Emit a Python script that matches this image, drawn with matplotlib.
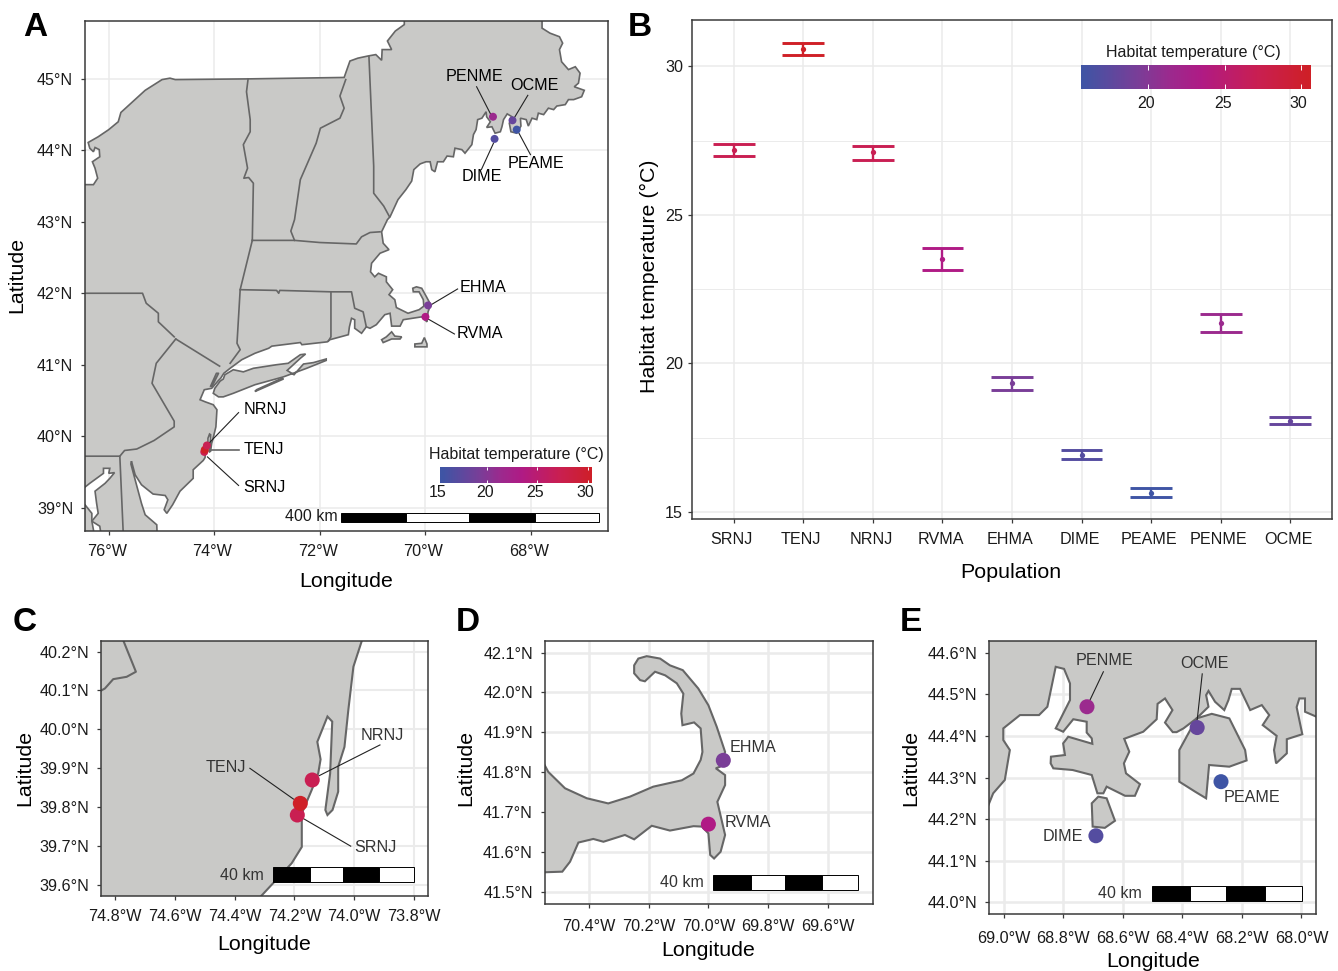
import numpy as np
import matplotlib
matplotlib.use('Agg')
import matplotlib.pyplot as plt
from matplotlib.colors import LinearSegmentedColormap
from matplotlib.patches import Polygon, Rectangle
from matplotlib.transforms import ScaledTranslation

plt.rcParams['font.family'] = ['Liberation Sans', 'DejaVu Sans']

W, H = 1338, 971

# populations
pops = ['SRNJ', 'TENJ', 'NRNJ', 'RVMA', 'EHMA', 'DIME', 'PEAME', 'PENME', 'OCME']
pop_lon = [-74.19, -74.18, -74.14, -70.00, -69.95, -68.69, -68.27, -68.72, -68.35]
pop_lat = [39.78, 39.81, 39.87, 41.67, 41.83, 44.16, 44.29, 44.47, 44.42]
temp_mean = [27.18, 30.58, 27.11, 23.51, 19.33, 16.93, 15.64, 21.36, 18.07]
temp_hi = [27.40, 30.78, 27.33, 23.87, 19.55, 17.09, 15.79, 21.67, 18.21]
temp_lo = [26.98, 30.38, 26.86, 23.14, 19.10, 16.77, 15.50, 21.06, 17.95]

# colour scale stops
stop_temp = [15.6, 19.3, 21.4, 23.5, 27.1, 30.6]
stop_col = ['#3F55A5', '#7A3E98', '#9C2A8E', '#B01B85', '#C91F53', '#CF2027']
t0, t1 = stop_temp[0], stop_temp[-1]
cmap = LinearSegmentedColormap.from_list(
    'habitat', [((t - t0) / (t1 - t0), c) for t, c in zip(stop_temp, stop_col)])

def temp_color(t):
    return cmap((t - t0) / (t1 - t0))

# panel A outlines (lon, lat)
coast_maine = [(-70.40, 46.0), (-67.79, 46.0), (-67.79, 45.71), (-67.64, 45.64), (-67.46, 45.59), (-67.40, 45.50),
               (-67.46, 45.41), (-67.42, 45.24), (-67.29, 45.13), (-67.16, 45.17), (-67.07, 45.08), (-67.10, 44.94),
               (-67.18, 44.89), (-66.99, 44.84), (-67.04, 44.75), (-67.19, 44.71), (-67.29, 44.71), (-67.35, 44.64),
               (-67.51, 44.62), (-67.57, 44.57), (-67.67, 44.59), (-67.76, 44.50), (-67.86, 44.52), (-67.89, 44.43),
               (-67.98, 44.45), (-68.05, 44.34), (-68.09, 44.43), (-68.20, 44.45), (-68.19, 44.34), (-68.27, 44.24),
               (-68.38, 44.26), (-68.41, 44.38), (-68.36, 44.47), (-68.45, 44.51), (-68.52, 44.43), (-68.55, 44.33),
               (-68.58, 44.26), (-68.68, 44.24), (-68.74, 44.33), (-68.84, 44.32), (-68.77, 44.40), (-68.84, 44.47),
               (-68.85, 44.54), (-68.93, 44.45), (-69.01, 44.43), (-69.04, 44.29), (-69.09, 44.22), (-69.12, 44.08),
               (-69.25, 43.96), (-69.31, 44.01), (-69.44, 44.03), (-69.47, 43.91), (-69.59, 43.92), (-69.66, 43.84),
               (-69.77, 43.84), (-69.82, 43.70), (-69.88, 43.73), (-69.91, 43.84), (-69.99, 43.84), (-70.10, 43.81),
               (-70.22, 43.73), (-70.26, 43.57), (-70.37, 43.45), (-70.52, 43.31), (-70.67, 43.07), (-70.72, 43.03),
               (-70.83, 42.86)]
coast_mass = [(-70.80, 42.70), (-70.69, 42.61), (-70.86, 42.56), (-71.02, 42.42), (-71.04, 42.30), (-70.96, 42.23),
              (-70.89, 42.28), (-70.74, 42.23), (-70.74, 42.16), (-70.62, 42.05), (-70.69, 41.98), (-70.58, 41.91),
              (-70.55, 41.80), (-70.33, 41.72), (-70.12, 41.77), (-70.03, 41.82), (-70.04, 41.91), (-70.12, 42.02),
              (-70.23, 42.02), (-70.24, 42.07), (-70.17, 42.09), (-70.07, 42.07), (-69.98, 41.95), (-69.90, 41.84),
              (-69.95, 41.74), (-69.97, 41.60), (-70.07, 41.67), (-70.42, 41.63), (-70.48, 41.54), (-70.64, 41.54),
              (-70.67, 41.72), (-70.77, 41.70), (-70.93, 41.56), (-71.05, 41.51), (-71.12, 41.53), (-71.21, 41.44),
              (-71.34, 41.51), (-71.34, 41.63), (-71.40, 41.65), (-71.44, 41.53), (-71.46, 41.42), (-71.81, 41.35)]
coast_ct_nj = [(-71.86, 41.32), (-72.34, 41.28), (-72.37, 41.31), (-72.91, 41.26), (-72.97, 41.23), (-73.23, 41.16),
               (-73.48, 41.07), (-73.70, 40.95), (-73.82, 40.88), (-73.88, 40.81), (-73.92, 40.78), (-74.05, 40.67),
               (-74.19, 40.65), (-74.27, 40.51), (-74.17, 40.48), (-74.02, 40.44), (-73.95, 40.37), (-73.97, 40.13),
               (-74.03, 39.95), (-74.05, 39.90), (-74.07, 39.79), (-74.09, 39.78), (-74.10, 39.79), (-74.08, 39.89),
               (-74.07, 40.02), (-74.09, 40.03), (-74.12, 39.97), (-74.12, 39.89), (-74.17, 39.78), (-74.175, 39.70),
               (-74.21, 39.66), (-74.40, 39.53), (-74.40, 39.41), (-74.65, 39.23), (-74.79, 39.04), (-74.90, 38.92),
               (-74.95, 38.97), (-74.88, 39.11), (-74.93, 39.17), (-75.16, 39.19), (-75.38, 39.32), (-75.50, 39.46),
               (-75.57, 39.65), (-75.58, 39.61), (-75.50, 39.39), (-75.38, 39.06), (-75.31, 38.90), (-75.09, 38.76),
               (-75.08, 38.55), (-76.13, 38.55), (-76.17, 38.74), (-76.32, 38.81), (-76.20, 38.92), (-76.23, 39.06),
               (-76.26, 39.23), (-76.07, 39.34), (-75.98, 39.41), (-75.89, 39.49), (-76.00, 39.48), (-75.98, 39.55),
               (-76.10, 39.55), (-76.10, 39.48), (-76.23, 39.41), (-76.36, 39.34), (-76.60, 39.20)]
coast_ny = [(-76.60, 43.52), (-76.29, 43.52), (-76.21, 43.61), (-76.26, 43.75), (-76.31, 43.84), (-76.17, 43.91),
            (-76.18, 44.01), (-76.26, 44.04), (-76.29, 43.98), (-76.36, 44.03), (-76.39, 44.11), (-76.20, 44.19),
            (-76.00, 44.29), (-75.82, 44.40), (-75.77, 44.53), (-75.31, 44.84), (-74.99, 44.99), (-74.84, 45.01),
            (-74.74, 44.99), (-73.36, 45.00), (-71.54, 45.02), (-71.43, 45.25), (-71.28, 45.29), (-71.09, 45.32),
            (-70.94, 45.34), (-70.83, 45.26), (-70.82, 45.41), (-70.64, 45.41), (-70.72, 45.53), (-70.57, 45.67),
            (-70.40, 45.76)]
land_a = coast_maine + coast_mass + coast_ct_nj + coast_ny
chesapeake_west = [(-76.60, 39.04), (-76.45, 39.04), (-76.32, 38.92), (-76.32, 38.81), (-76.29, 38.69),
                   (-76.29, 38.55), (-76.60, 38.55)]
long_island = [(-73.92, 40.55), (-73.83, 40.55), (-73.64, 40.60), (-73.23, 40.72), (-72.69, 40.83), (-72.25, 40.95),
               (-71.88, 41.06), (-71.88, 41.08), (-72.12, 41.03), (-72.31, 41.01), (-72.49, 40.86), (-72.62, 40.92),
               (-72.37, 41.09), (-72.27, 41.15), (-72.37, 41.14), (-72.60, 41.02), (-72.82, 41.00), (-73.26, 40.95),
               (-73.45, 40.90), (-73.64, 40.93), (-73.80, 40.86), (-73.83, 40.80), (-73.89, 40.77), (-73.99, 40.67),
               (-74.02, 40.60)]
fire_island = [(-73.23, 40.625), (-72.69, 40.80), (-72.72, 40.81), (-73.20, 40.65)]
vineyard = [(-70.83, 41.35), (-70.74, 41.39), (-70.64, 41.46), (-70.58, 41.40), (-70.45, 41.39), (-70.48, 41.36),
            (-70.64, 41.36), (-70.80, 41.31)]
nantucket = [(-70.20, 41.29), (-70.07, 41.30), (-70.02, 41.38), (-69.97, 41.29), (-69.97, 41.25), (-70.10, 41.25),
             (-70.20, 41.25)]
islands_a = [chesapeake_west, long_island, fire_island, vineyard, nantucket]

# state borders on panel A
ny_vt = [(-73.36, 45.00), (-73.39, 44.82), (-73.32, 44.43), (-73.32, 44.26), (-73.45, 44.08), (-73.37, 43.75),
         (-73.44, 43.61), (-73.35, 43.62), (-73.26, 43.54), (-73.28, 42.74)]
vt_nh = [(-71.51, 44.99), (-71.62, 44.76), (-71.54, 44.59), (-71.62, 44.45), (-71.99, 44.31), (-72.07, 44.10),
         (-72.37, 43.59), (-72.48, 43.03), (-72.55, 42.87), (-72.48, 42.74)]
nh_me = [(-71.07, 45.31), (-70.98, 43.78), (-70.98, 43.40), (-70.79, 43.22), (-70.68, 43.07)]
ma_north = [(-73.28, 42.74), (-72.48, 42.74), (-72.00, 42.71), (-71.31, 42.69), (-71.21, 42.79), (-71.05, 42.85), (-70.86, 42.86)]
ny_east = [(-73.28, 42.74), (-73.51, 42.05), (-73.57, 41.30), (-73.51, 41.21), (-73.70, 41.02)]
ct_north = [(-73.51, 42.05), (-72.82, 42.04), (-72.78, 42.00), (-72.76, 42.04), (-71.79, 42.02), (-71.40, 42.02),
            (-71.34, 41.79), (-71.18, 41.74), (-71.12, 41.53)]
ct_ri = [(-71.79, 42.02), (-71.79, 41.39), (-71.84, 41.33)]
ny_pa = [(-76.60, 42.00), (-75.36, 42.00), (-75.29, 41.86), (-75.06, 41.72), (-75.06, 41.60), (-74.76, 41.39)]
ny_nj = [(-74.73, 41.36), (-73.90, 40.98)]
pa_nj = [(-74.73, 41.36), (-75.10, 41.02), (-75.18, 40.74), (-74.76, 40.21), (-74.76, 40.13), (-75.14, 39.94),
         (-75.47, 39.82), (-75.70, 39.80), (-75.79, 39.72)]
pa_md = [(-76.60, 39.72), (-75.79, 39.72), (-75.72, 38.55)]
hudson = [(-74.04, 40.70), (-73.92, 40.88), (-73.96, 40.88), (-74.07, 40.70)]
borders_a = [ny_vt, vt_nh, nh_me, ma_north, ny_east, ct_north, ct_ri, ny_pa, ny_nj, pa_nj, pa_md, hudson]

# panel C outlines
land_c = [(-74.90, 40.26), (-73.96, 40.26), (-74.002, 40.161), (-74.019, 40.050), (-74.032, 39.955), (-74.053, 39.904),
          (-74.053, 39.840), (-74.072, 39.793), (-74.089, 39.780), (-74.096, 39.793), (-74.080, 39.887), (-74.073, 40.020),
          (-74.089, 40.033), (-74.123, 39.968), (-74.112, 39.923), (-74.120, 39.887), (-74.142, 39.844), (-74.175, 39.784),
          (-74.175, 39.698), (-74.209, 39.656), (-74.35, 39.54), (-74.90, 39.54)]
river_c = [(-74.79, 40.26), (-74.731, 40.148), (-74.762, 40.135), (-74.807, 40.129), (-74.835, 40.105), (-74.87, 40.09)]

# panel D outline
land_d = [(-70.565, 41.84), (-70.537, 41.801), (-70.481, 41.760), (-70.408, 41.735), (-70.336, 41.722), (-70.263, 41.739),
          (-70.185, 41.764), (-70.089, 41.780), (-70.050, 41.797), (-70.026, 41.831), (-70.020, 41.851), (-70.026, 41.910),
          (-70.048, 41.925), (-70.087, 41.918), (-70.091, 41.947), (-70.084, 41.997), (-70.106, 42.023), (-70.145, 42.043),
          (-70.179, 42.052), (-70.213, 42.028), (-70.229, 42.031), (-70.249, 42.048), (-70.249, 42.068), (-70.235, 42.085),
          (-70.207, 42.091), (-70.162, 42.085), (-70.129, 42.068), (-70.086, 42.056), (-70.034, 42.010), (-70.000, 41.968),
          (-69.972, 41.914), (-69.944, 41.851), (-69.961, 41.814), (-69.975, 41.810), (-69.944, 41.793), (-69.944, 41.768),
          (-69.970, 41.726), (-69.944, 41.643), (-69.959, 41.601), (-69.981, 41.584), (-69.994, 41.593), (-70.000, 41.647),
          (-70.022, 41.664), (-70.050, 41.665), (-70.129, 41.654), (-70.190, 41.666), (-70.249, 41.632), (-70.280, 41.643),
          (-70.352, 41.626), (-70.386, 41.633), (-70.436, 41.624), (-70.464, 41.576), (-70.490, 41.551), (-70.57, 41.549)]

# panel E outlines
land_e = [(-69.07, 44.65), (-67.93, 44.65), (-67.93, 44.44), (-67.988, 44.458), (-67.988, 44.490), (-68.007, 44.490),
          (-68.016, 44.469), (-67.997, 44.404), (-68.049, 44.392), (-68.049, 44.358), (-68.085, 44.334), (-68.092, 44.366),
          (-68.083, 44.400), (-68.130, 44.426), (-68.108, 44.450), (-68.133, 44.474), (-68.172, 44.462), (-68.206, 44.513),
          (-68.234, 44.513), (-68.245, 44.486), (-68.259, 44.462), (-68.290, 44.482), (-68.312, 44.508), (-68.320, 44.498),
          (-68.312, 44.470), (-68.352, 44.442), (-68.396, 44.418), (-68.419, 44.409), (-68.432, 44.409), (-68.458, 44.432),
          (-68.433, 44.462), (-68.458, 44.490), (-68.483, 44.477), (-68.486, 44.440), (-68.531, 44.410), (-68.595, 44.393),
          (-68.578, 44.362), (-68.596, 44.334), (-68.589, 44.310), (-68.542, 44.284), (-68.559, 44.256), (-68.592, 44.256),
          (-68.654, 44.278), (-68.665, 44.262), (-68.685, 44.262), (-68.704, 44.306), (-68.768, 44.318), (-68.833, 44.322),
          (-68.842, 44.334), (-68.841, 44.350), (-68.794, 44.354), (-68.800, 44.382), (-68.783, 44.398), (-68.702, 44.381),
          (-68.704, 44.394), (-68.721, 44.408), (-68.721, 44.434), (-68.766, 44.440), (-68.800, 44.410), (-68.825, 44.418),
          (-68.777, 44.486), (-68.777, 44.526), (-68.797, 44.561), (-68.825, 44.566), (-68.853, 44.470), (-68.881, 44.450),
          (-68.945, 44.450), (-69.001, 44.418), (-69.001, 44.390), (-68.979, 44.366), (-68.996, 44.294), (-69.035, 44.262),
          (-69.07, 44.20)]
mdi = [(-68.301, 44.453), (-68.242, 44.442), (-68.189, 44.366), (-68.184, 44.341), (-68.242, 44.326), (-68.310, 44.330),
       (-68.320, 44.250), (-68.357, 44.266), (-68.410, 44.290), (-68.410, 44.366), (-68.352, 44.442)]
isle_e = [(-68.704, 44.238), (-68.682, 44.254), (-68.654, 44.250), (-68.626, 44.196), (-68.660, 44.179), (-68.701, 44.182)]

LAND = '#C9C9C7'
EDGE = '#666666'
FRAME = '#3A3A3A'
GRID = '#EBEBEB'
DARK = '#1A1A1A'
TXT = '#333333'
TICK_FS = 11.6

fig = plt.figure(figsize=(W / 100, H / 100), dpi=100)

def ax_px(l, t, r, b):
    return fig.add_axes([l / W, 1 - b / H, (r - l) / W, (b - t) / H])

def fig_text(x, y, s, **kw):
    kw.setdefault('ha', 'center')
    kw.setdefault('va', 'center')
    kw.setdefault('color', 'black')
    fig.text(x / W, 1 - y / H, s, **kw)

def setup_axes(ax, xlim, ylim, xticks, yticks, xfmt, yfmt, grid_lw, xpad=6.5, ypad=5.5):
    ax.set_xlim(xlim)
    ax.set_ylim(ylim)
    ax.set_xticks(xticks)
    ax.set_yticks(yticks)
    ax.set_xticklabels([xfmt.format(abs(v)) for v in xticks])
    ax.set_yticklabels([yfmt.format(v) for v in yticks])
    ax.tick_params(length=3, width=0.9, color=FRAME, labelsize=TICK_FS, labelcolor=DARK)
    ax.tick_params(axis='x', pad=xpad)
    ax.tick_params(axis='y', pad=ypad)
    ax.grid(True, color=GRID, lw=grid_lw, zorder=0)
    ax.set_axisbelow(True)
    for s in ax.spines.values():
        s.set_color(FRAME)
        s.set_linewidth(1.1)
        s.set_zorder(10)

def shift_xlabels(ax, px):
    for lab in ax.get_xticklabels():
        lab.set_transform(lab.get_transform() + ScaledTranslation(px / 100, 0, fig.dpi_scale_trans))

def draw_land(ax, outline, lw=1.2):
    ax.add_patch(Polygon(outline, closed=True, fc=LAND, ec=EDGE, lw=lw, zorder=1))

def draw_line(ax, pts, lw=1.2):
    ax.plot([p[0] for p in pts], [p[1] for p in pts], color=EDGE, lw=lw, zorder=2, solid_joinstyle='round')

def draw_sites(ax, idx, size):
    for i in idx:
        ax.scatter(pop_lon[i], pop_lat[i], s=size, color=temp_color(temp_mean[i]), edgecolors='none', zorder=4)

def leader(ax, x0, y0, x1, y1, color='#222222', lw=0.8):
    ax.plot([x0, x1], [y0, y1], color=color, lw=lw, zorder=3)

def scale_bar(ax, breaks, lat0, lat1, label, label_x, label_y, fontsize=11.5, color=TXT):
    for j in range(len(breaks) - 1):
        fc = 'black' if j % 2 == 0 else 'white'
        ax.add_patch(Rectangle((breaks[j], lat0), breaks[j + 1] - breaks[j], lat1 - lat0,
                               fc=fc, ec='black', lw=0.7, zorder=6))
    ax.text(label_x, label_y, label, ha='right', va='center', fontsize=fontsize, color=color, zorder=6)

def color_bar(l, t, r, b, tmin, tmax, ticks, label_y):
    cax = ax_px(l, t, r, b)
    grad = np.linspace(tmin, tmax, 256).reshape(1, -1)
    cax.imshow(grad, aspect='auto', cmap=cmap, vmin=t0, vmax=t1, extent=[tmin, tmax, 0, 1], interpolation='bilinear')
    cax.set_xlim(tmin, tmax)
    cax.set_ylim(0, 1)
    cax.axis('off')
    for v in ticks:
        if tmin < v < tmax:
            cax.vlines(v, 0, 0.2, color='white', lw=0.7)
            cax.vlines(v, 0.8, 1, color='white', lw=0.7)
        px = l + (max(v, tmin) - tmin) / (tmax - tmin) * (r - l)
        fig_text(px - 2, label_y, str(v), fontsize=11.5, color=DARK)

# panel A
ax = ax_px(85, 21, 607.5, 530.5)
setup_axes(ax, (-76.45, -66.55), (38.68, 45.81), [-76, -74, -72, -70, -68], [39, 40, 41, 42, 43, 44, 45],
           '{:.0f}°W', '{:.0f}°N', 1.1, xpad=7)
shift_xlabels(ax, -2)
draw_land(ax, land_a)
for poly in islands_a:
    draw_land(ax, poly)
for line in borders_a:
    draw_line(ax, line)
lead_a = {'PENME': (-69.03, 44.89, -68.76, 44.50), 'OCME': (-68.06, 44.77, -68.32, 44.45),
          'PEAME': (-68.01, 43.94, -68.25, 44.27), 'DIME': (-68.94, 43.73, -68.71, 44.10),
          'EHMA': (-69.39, 42.06, -69.89, 41.84), 'RVMA': (-69.45, 41.43, -69.95, 41.64),
          'NRNJ': (-73.54, 40.33, -74.09, 39.91), 'SRNJ': (-73.54, 39.31, -74.13, 39.71)}
for k, v in lead_a.items():
    leader(ax, *v)
leader(ax, -73.54, 39.81, -74.09, 39.81, color='#666666', lw=1.2)
draw_sites(ax, range(9), 33)
label_a = {'PENME': (-69.07, 45.03), 'OCME': (-67.93, 44.91), 'PEAME': (-67.91, 43.81), 'DIME': (-68.94, 43.63),
           'EHMA': (-68.91, 42.08), 'RVMA': (-68.96, 41.43), 'NRNJ': (-73.04, 40.38), 'TENJ': (-73.06, 39.82),
           'SRNJ': (-73.06, 39.28)}
for k, v in label_a.items():
    ax.text(v[0], v[1], k, ha='center', va='center', fontsize=11.6, color='black', zorder=6)
scale_bar(ax, [-71.60, -70.37, -69.17, -67.93, -66.72], 38.80, 38.93, '400 km', -71.66, 38.88, color=DARK)
fig_text(516, 455, 'Habitat temperature (°C)', fontsize=11.5, color=DARK)
color_bar(440, 467, 592, 483, 15.39, 30.43, [15, 20, 25, 30], 492.5)

# panel B
ax = ax_px(692, 20, 1332, 519)
xpos = np.arange(len(pops))
ax.set_xlim(-0.6, 8.6)
ax.set_ylim(14.76, 31.56)
ax.set_xticks(xpos)
ax.set_xticklabels(pops)
ax.set_yticks([15, 20, 25, 30])
ax.set_yticks([17.5, 22.5, 27.5], minor=True)
ax.tick_params(which='major', length=3, width=0.9, color=FRAME, labelsize=TICK_FS, labelcolor=DARK)
ax.tick_params(axis='x', pad=6)
ax.tick_params(which='minor', length=0)
ax.grid(True, which='major', color=GRID, lw=1.1)
ax.grid(True, which='minor', axis='y', color=GRID, lw=0.7)
ax.set_axisbelow(True)
shift_xlabels(ax, -2)
for s in ax.spines.values():
    s.set_color(FRAME)
    s.set_linewidth(1.1)
for x, m, lo, hi in zip(xpos, temp_mean, temp_lo, temp_hi):
    c = temp_color(m)
    ax.vlines(x, lo, hi, color=c, lw=1.7, zorder=3)
    ax.hlines([lo, hi], x - 0.3, x + 0.3, color=c, lw=2.1, zorder=3)
    ax.plot(x, m, 'o', color=c, ms=3.8, mec='none', zorder=4)
fig_text(1193, 53, 'Habitat temperature (°C)', fontsize=11.5, color=DARK)
color_bar(1081, 65, 1311, 89, 15.58, 30.67, [20, 25, 30], 103)

# panel C
ax = ax_px(100.7, 641, 428.3, 896)
setup_axes(ax, (-74.849, -73.751), (39.572, 40.227), [-74.8, -74.6, -74.4, -74.2, -74.0, -73.8],
           [39.6, 39.7, 39.8, 39.9, 40.0, 40.1, 40.2], '{:.1f}°W', '{:.1f}°N', 1.5, ypad=5)
draw_land(ax, land_c, lw=1.5)
draw_line(ax, river_c, lw=1.5)
leader(ax, -73.913, 39.960, -74.117, 39.881)
leader(ax, -74.349, 39.900, -74.203, 39.821)
leader(ax, -74.011, 39.700, -74.170, 39.771)
draw_sites(ax, [0, 2, 1], 117)
ax.text(-73.907, 39.985, 'NRNJ', ha='center', va='center', fontsize=11.6, color=TXT, zorder=6)
ax.text(-74.430, 39.902, 'TENJ', ha='center', va='center', fontsize=11.6, color=TXT, zorder=6)
ax.text(-73.930, 39.697, 'SRNJ', ha='center', va='center', fontsize=11.6, color=TXT, zorder=6)
scale_bar(ax, [-74.27, -74.149, -74.036, -73.915, -73.799], 39.607, 39.647, '40 km', -74.304, 39.625)

# panel D
ax = ax_px(544.7, 641, 872.7, 904)
setup_axes(ax, (-70.549, -69.449), (41.470, 42.129), [-70.4, -70.2, -70.0, -69.8, -69.6],
           [41.5, 41.6, 41.7, 41.8, 41.9, 42.0, 42.1], '{:.1f}°W', '{:.1f}°N', 1.8, xpad=8)
draw_land(ax, land_d, lw=1.5)
draw_sites(ax, [3, 4], 117)
ax.text(-69.851, 41.861, 'EHMA', ha='center', va='center', fontsize=11.6, color=TXT, zorder=6)
ax.text(-69.866, 41.674, 'RVMA', ha='center', va='center', fontsize=11.6, color=TXT, zorder=6)
scale_bar(ax, [-69.983, -69.858, -69.743, -69.619, -69.498], 41.506, 41.543, '40 km', -70.017, 41.523)

# panel E
ax = ax_px(989, 641, 1316.3, 914)
setup_axes(ax, (-69.049, -67.950), (43.972, 44.628), [-69.0, -68.8, -68.6, -68.4, -68.2, -68.0],
           [44.0, 44.1, 44.2, 44.3, 44.4, 44.5, 44.6], '{:.1f}°W', '{:.1f}°N', 1.8, xpad=9)
draw_land(ax, land_e, lw=1.5)
draw_land(ax, mdi, lw=1.5)
draw_land(ax, isle_e, lw=1.5)
leader(ax, -68.665, 44.554, -68.710, 44.486)
leader(ax, -68.333, 44.549, -68.350, 44.438)
draw_sites(ax, [5, 6, 7, 8], 117)
ax.text(-68.66, 44.581, 'PENME', ha='center', va='center', fontsize=11.6, color=TXT, zorder=6)
ax.text(-68.324, 44.575, 'OCME', ha='center', va='center', fontsize=11.6, color=TXT, zorder=6)
ax.text(-68.165, 44.252, 'PEAME', ha='center', va='center', fontsize=11.6, color=TXT, zorder=6)
ax.text(-68.80, 44.158, 'DIME', ha='center', va='center', fontsize=11.6, color=TXT, zorder=6)
scale_bar(ax, [-68.503, -68.374, -68.253, -68.123, -67.999], 44.004, 44.040, '40 km', -68.536, 44.021)

# axis titles
fig_text(17, 275, 'Latitude', fontsize=15.4, rotation=90)
fig_text(346, 581, 'Longitude', fontsize=15.4)
fig_text(649, 276, 'Habitat temperature (°C)', fontsize=15.4, rotation=90)
fig_text(1011, 572, 'Population', fontsize=15.4)
fig_text(25, 768, 'Latitude', fontsize=15.4, rotation=90)
fig_text(264, 944, 'Longitude', fontsize=15.4)
fig_text(466, 768, 'Latitude', fontsize=15.4, rotation=90)
fig_text(708, 950, 'Longitude', fontsize=15.4)
fig_text(911, 768, 'Latitude', fontsize=15.4, rotation=90)
fig_text(1153, 961, 'Longitude', fontsize=15.4)

# panel letters
for s, x, y in [('A', 35, 28), ('B', 640, 27), ('C', 25, 622), ('D', 468, 622), ('E', 911, 622)]:
    fig_text(x, y, s, fontsize=24, fontweight='bold')

fig.savefig('out.png', dpi=100)
